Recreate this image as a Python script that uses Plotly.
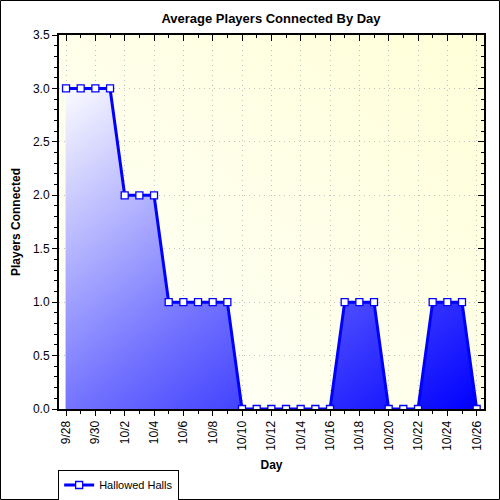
import base64
import numpy as np
import plotly.graph_objects as go

# ---- data ----
days = ["9/28", "9/29", "9/30", "10/1", "10/2", "10/3", "10/4", "10/5", "10/6",
        "10/7", "10/8", "10/9", "10/10", "10/11", "10/12", "10/13", "10/14",
        "10/15", "10/16", "10/17", "10/18", "10/19", "10/20", "10/21", "10/22",
        "10/23", "10/24", "10/25", "10/26"]
players = [3, 3, 3, 3, 2, 2, 2, 1, 1, 1, 1, 1, 0, 0, 0, 0, 0, 0, 0,
           1, 1, 1, 0, 0, 0, 1, 1, 1, 0]
series_name = "Hallowed Halls"
tick_labels = days[::2]

n = len(days)
xi = np.arange(n)
ymax = float(max(players))

# ---- gradient area fill (heatmap masked under the curve) ----
gx = np.linspace(0, n - 1, 449)
gy = np.linspace(0, ymax, 301)
curve = np.interp(gx, xi, players)
X, Y = np.meshgrid(gx, gy)
t = (X / (n - 1) + (ymax - Y) / ymax) / 2.0
Z = np.where(Y <= curve[None, :] + 1e-9, np.round(t, 3), np.nan)

fig = go.Figure()
fig.add_trace(go.Heatmap(
    x=gx, y=gy, z=Z, zmin=0, zmax=1, showscale=False, hoverinfo="skip",
    colorscale=[[0, "#FBFBFF"], [0.5, "#7474FF"], [1, "#0000FF"]],
))
fig.add_trace(go.Scatter(
    x=xi, y=players, name=series_name, mode="lines+markers",
    line=dict(color="#0000FF", width=3),
    marker=dict(symbol="square", size=7, color="white",
                line=dict(color="#0000FF", width=1.3)),
))
# invisible trace for the mirrored (inside-tick) axes
fig.add_trace(go.Scatter(x=[None], y=[None], xaxis="x2", yaxis="y2",
                         showlegend=False, hoverinfo="skip"))

# background gradient (drawn below grid)
svg = ('<svg xmlns="http://www.w3.org/2000/svg" width="100" height="100" '
       'preserveAspectRatio="none"><defs><linearGradient id="g" x1="0" y1="1" x2="1" y2="0">'
       '<stop offset="0" stop-color="#FFFFFC"/><stop offset="1" stop-color="#FFFFD8"/>'
       '</linearGradient></defs><rect width="100" height="100" fill="url(#g)"/></svg>')
svg_uri = "data:image/svg+xml;base64," + base64.b64encode(svg.encode()).decode()

font = "Arial, Liberation Sans, sans-serif"
xr = [-0.48, n - 1 + 0.5]
yr = [0, 3.5]
minor_x = list(range(n))
grid_dash = "1px,4px"

axis_common = dict(showline=True, linecolor="black", linewidth=2,
                   tickcolor="black", zeroline=False, automargin=False)

fig.update_layout(
    width=500, height=500,
    margin=dict(l=59, r=16, t=35, b=91, autoexpand=False),
    paper_bgcolor="white", plot_bgcolor="white",
    font=dict(family=font, size=12, color="black"),
    title=dict(text="<b>Average Players Connected By Day</b>",
               x=0.542, xanchor="center", y=1 - 18 / 500, yanchor="middle",
               font=dict(size=13, color="black")),
    showlegend=True,
    legend=dict(x=-0.002, y=(409 - 485) / 374, xanchor="left", yanchor="middle",
                bgcolor="white", bordercolor="black", borderwidth=1,
                font=dict(size=11), itemwidth=30, tracegroupgap=0),
    xaxis=dict(range=xr, tickmode="array", tickvals=xi[::2].tolist(), ticktext=tick_labels,
               tickangle=-90, ticks="outside", ticklen=5, tickwidth=1,
               showgrid=True, gridcolor="#C0C0C0", griddash=grid_dash, gridwidth=1,
               minor=dict(tickmode="array", tickvals=minor_x, ticks="outside", ticklen=3,
                          tickcolor="black", showgrid=False),
               title=dict(text="<b>Day</b>", font=dict(size=12), standoff=11),
               **axis_common),
    yaxis=dict(range=yr, dtick=0.5, tick0=0, tickformat=".1f",
               ticks="outside", ticklen=5, tickwidth=1,
               showgrid=True, gridcolor="#C0C0C0", griddash=grid_dash, gridwidth=1,
               minor=dict(dtick=0.1, ticks="outside", ticklen=3, tickcolor="black",
                          showgrid=False),
               title=dict(text="<b>Players Connected</b>", font=dict(size=12), standoff=10),
               **axis_common),
    xaxis2=dict(overlaying="x", anchor="y", side="top", range=xr,
                tickmode="array", tickvals=xi[::2].tolist(), ticks="inside", ticklen=6,
                showticklabels=False, showgrid=False,
                minor=dict(tickmode="array", tickvals=minor_x, ticks="inside", ticklen=3,
                           tickcolor="black", showgrid=False),
                **axis_common),
    yaxis2=dict(overlaying="y", anchor="x", side="right", range=yr,
                dtick=0.5, tick0=0, ticks="inside", ticklen=6,
                showticklabels=False, showgrid=False,
                minor=dict(dtick=0.1, ticks="inside", ticklen=3, tickcolor="black",
                           showgrid=False),
                **axis_common),
    images=[dict(source=svg_uri, xref="x domain", yref="y domain", x=0, y=1,
                 sizex=1, sizey=1, xanchor="left", yanchor="top",
                 sizing="stretch", layer="below")],
    shapes=[dict(type="rect", xref="paper", yref="paper",
                 x0=(0.5 - 59) / 425, x1=(499.5 - 59) / 425,
                 y0=(409 - 499.5) / 374, y1=(409 - 0.5) / 374,
                 line=dict(color="black", width=1), fillcolor="rgba(0,0,0,0)")],
)

fig.write_html("out.html")
